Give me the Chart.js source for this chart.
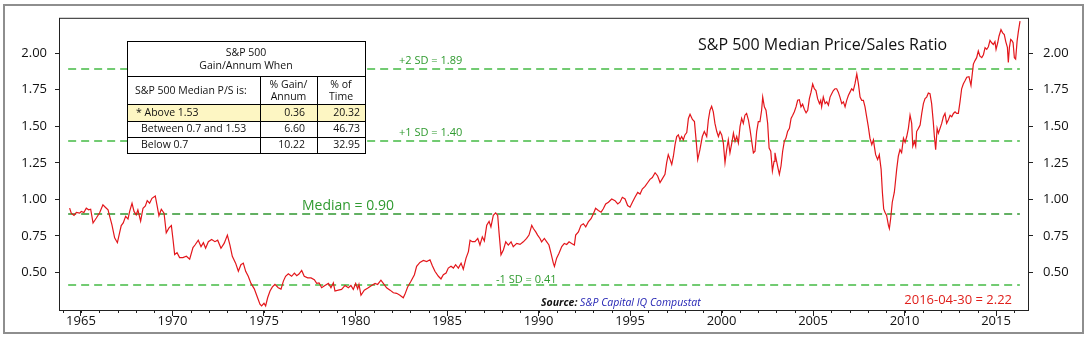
<!DOCTYPE html>
<html lang="en">
<head>
<meta charset="utf-8">
<title>S&amp;P 500 Median Price/Sales Ratio</title>
<script src="https://cdn.jsdelivr.net/npm/chart.js@4.4.1/dist/chart.umd.min.js"></script>
<style>
  html, body { margin: 0; padding: 0; background: #fff; }
  canvas { display: block; }
</style>
</head>
<body>
<canvas id="chart" width="1087" height="338"></canvas>
<script>
// month-end readings of the median P/S ratio (decimal year, ratio)
const dates = [
  1964.38, 1964.47, 1964.62, 1964.75, 1964.93, 1965.02, 1965.16, 1965.29, 1965.42, 1965.53,
  1965.66, 1965.84, 1966.02, 1966.2, 1966.33, 1966.48, 1966.57, 1966.69, 1966.84, 1966.99,
  1967.11, 1967.2, 1967.31, 1967.44, 1967.57, 1967.66, 1967.79, 1967.9, 1968.02, 1968.11,
  1968.26, 1968.39, 1968.52, 1968.62, 1968.75, 1968.88, 1969.06, 1969.17, 1969.26, 1969.39,
  1969.54, 1969.66, 1969.81, 1969.94, 1970.03, 1970.12, 1970.25, 1970.39, 1970.57, 1970.76,
  1970.94, 1971.12, 1971.23, 1971.41, 1971.56, 1971.69, 1971.81, 1971.96, 1972.14, 1972.32,
  1972.47, 1972.65, 1972.83, 1973.0, 1973.14, 1973.27, 1973.45, 1973.6, 1973.74, 1973.87,
  1974.0, 1974.14, 1974.29, 1974.47, 1974.65, 1974.78, 1974.87, 1975.0, 1975.09, 1975.2,
  1975.33, 1975.46, 1975.6, 1975.78, 1975.93, 1976.06, 1976.18, 1976.33, 1976.51, 1976.66,
  1976.79, 1976.91, 1977.06, 1977.2, 1977.39, 1977.57, 1977.75, 1977.88, 1978.01, 1978.15,
  1978.33, 1978.52, 1978.66, 1978.79, 1978.88, 1979.06, 1979.24, 1979.43, 1979.61, 1979.75,
  1979.88, 1980.01, 1980.12, 1980.19, 1980.3, 1980.48, 1980.7, 1980.88, 1981.07, 1981.21,
  1981.39, 1981.52, 1981.7, 1981.89, 1982.07, 1982.25, 1982.43, 1982.61, 1982.7, 1982.85,
  1983.03, 1983.22, 1983.34, 1983.52, 1983.71, 1983.89, 1984.07, 1984.2, 1984.34, 1984.53,
  1984.67, 1984.8, 1984.95, 1985.07, 1985.22, 1985.35, 1985.47, 1985.62, 1985.77, 1985.89,
  1986.04, 1986.17, 1986.26, 1986.38, 1986.53, 1986.68, 1986.8, 1986.93, 1987.04, 1987.17,
  1987.3, 1987.4, 1987.53, 1987.66, 1987.77, 1987.84, 1987.95, 1988.08, 1988.21, 1988.35,
  1988.5, 1988.62, 1988.81, 1988.99, 1989.17, 1989.35, 1989.48, 1989.63, 1989.72, 1989.85,
  1989.95, 1990.08, 1990.17, 1990.32, 1990.45, 1990.57, 1990.68, 1990.81, 1990.87, 1990.99,
  1991.12, 1991.27, 1991.41, 1991.54, 1991.67, 1991.81, 1991.96, 1992.03, 1992.18, 1992.32,
  1992.45, 1992.58, 1992.72, 1992.87, 1993.0, 1993.12, 1993.27, 1993.42, 1993.54, 1993.67,
  1993.82, 1994.0, 1994.18, 1994.33, 1994.45, 1994.58, 1994.73, 1994.87, 1995.0, 1995.13,
  1995.27, 1995.42, 1995.55, 1995.67, 1995.82, 1995.97, 1996.09, 1996.22, 1996.37, 1996.51,
  1996.64, 1996.77, 1996.91, 1997.0, 1997.09, 1997.19, 1997.28, 1997.37, 1997.46, 1997.55,
  1997.64, 1997.73, 1997.82, 1997.91, 1998.0, 1998.1, 1998.19, 1998.28, 1998.41, 1998.52,
  1998.61, 1998.7, 1998.82, 1998.95, 1999.06, 1999.19, 1999.28, 1999.37, 1999.46, 1999.55,
  1999.64, 1999.74, 1999.83, 1999.92, 2000.01, 2000.1, 2000.19, 2000.28, 2000.37, 2000.46,
  2000.56, 2000.65, 2000.74, 2000.83, 2000.92, 2001.01, 2001.1, 2001.19, 2001.28, 2001.37,
  2001.47, 2001.56, 2001.65, 2001.74, 2001.83, 2001.92, 2002.01, 2002.1, 2002.19, 2002.25,
  2002.34, 2002.43, 2002.52, 2002.6, 2002.69, 2002.78, 2002.87, 2002.92, 2003.01, 2003.1,
  2003.16, 2003.25, 2003.34, 2003.43, 2003.52, 2003.61, 2003.71, 2003.8, 2003.89, 2003.98,
  2004.07, 2004.16, 2004.25, 2004.34, 2004.43, 2004.53, 2004.62, 2004.71, 2004.8, 2004.89,
  2004.98, 2005.07, 2005.16, 2005.25, 2005.35, 2005.42, 2005.47, 2005.56, 2005.66, 2005.75,
  2005.84, 2005.93, 2006.02, 2006.11, 2006.2, 2006.29, 2006.38, 2006.47, 2006.57, 2006.66,
  2006.75, 2006.84, 2006.93, 2007.02, 2007.11, 2007.2, 2007.29, 2007.39, 2007.48, 2007.57,
  2007.66, 2007.75, 2007.84, 2007.93, 2008.02, 2008.11, 2008.21, 2008.3, 2008.35, 2008.42,
  2008.53, 2008.62, 2008.72, 2008.79, 2008.86, 2008.93, 2009.02, 2009.12, 2009.17, 2009.24,
  2009.33, 2009.44, 2009.48, 2009.57, 2009.66, 2009.75, 2009.84, 2009.94, 2010.03, 2010.12,
  2010.21, 2010.3, 2010.39, 2010.45, 2010.54, 2010.61, 2010.66, 2010.76, 2010.85, 2010.94,
  2011.03, 2011.12, 2011.21, 2011.3, 2011.39, 2011.48, 2011.57, 2011.63, 2011.7, 2011.78,
  2011.85, 2011.94, 2012.03, 2012.12, 2012.21, 2012.3, 2012.39, 2012.49, 2012.58, 2012.67,
  2012.76, 2012.85, 2012.94, 2013.03, 2013.12, 2013.21, 2013.31, 2013.4, 2013.52, 2013.63,
  2013.76, 2013.85, 2013.94, 2014.03, 2014.12, 2014.22, 2014.31, 2014.4, 2014.49, 2014.58,
  2014.67, 2014.76, 2014.85, 2014.94, 2015.0, 2015.09, 2015.16, 2015.27, 2015.36, 2015.45,
  2015.53, 2015.62, 2015.67, 2015.73, 2015.8, 2015.86, 2015.93, 2016.0, 2016.07, 2016.15,
  2016.22, 2016.31
];
const ratio = [
  0.94, 0.905, 0.89, 0.91, 0.905, 0.917, 0.91, 0.939, 0.928, 0.932,
  0.838, 0.872, 0.908, 0.962, 0.946, 0.928, 0.883, 0.827, 0.736, 0.703,
  0.77, 0.82, 0.838, 0.883, 0.865, 0.917, 0.973, 0.917, 0.894, 0.928,
  0.851, 0.939, 0.955, 0.991, 0.973, 1.007, 1.023, 0.95, 0.887, 0.932,
  0.905, 0.77, 0.804, 0.82, 0.725, 0.622, 0.635, 0.601, 0.601, 0.61,
  0.59, 0.669, 0.687, 0.72, 0.676, 0.703, 0.665, 0.71, 0.725, 0.71,
  0.72, 0.665, 0.70, 0.755, 0.687, 0.61, 0.563, 0.507, 0.552, 0.563,
  0.507, 0.473, 0.424, 0.387, 0.326, 0.282, 0.27, 0.288, 0.27, 0.326,
  0.372, 0.40, 0.417, 0.395, 0.385, 0.44, 0.473, 0.49, 0.473, 0.495,
  0.477, 0.488, 0.513, 0.473, 0.462, 0.462, 0.45, 0.424, 0.428, 0.395,
  0.41, 0.424, 0.395, 0.428, 0.372, 0.378, 0.383, 0.41, 0.394, 0.41,
  0.383, 0.424, 0.387, 0.417, 0.343, 0.378, 0.394, 0.41, 0.424, 0.417,
  0.446, 0.424, 0.394, 0.378, 0.36, 0.356, 0.343, 0.326, 0.349, 0.40,
  0.439, 0.484, 0.541, 0.568, 0.581, 0.574, 0.586, 0.545, 0.507, 0.473,
  0.455, 0.484, 0.495, 0.529, 0.541, 0.529, 0.552, 0.529, 0.563, 0.522,
  0.597, 0.642, 0.72, 0.71, 0.71, 0.732, 0.687, 0.743, 0.714, 0.822,
  0.849, 0.811, 0.89, 0.907, 0.89, 0.777, 0.62, 0.653, 0.709, 0.687,
  0.709, 0.676, 0.698, 0.691, 0.709, 0.732, 0.755, 0.822, 0.80, 0.777,
  0.755, 0.732, 0.709, 0.732, 0.709, 0.687, 0.631, 0.563, 0.541, 0.597,
  0.631, 0.676, 0.698, 0.691, 0.709, 0.698, 0.687, 0.755, 0.777, 0.822,
  0.833, 0.811, 0.845, 0.867, 0.901, 0.939, 0.924, 0.912, 0.935, 0.968,
  0.98, 1.002, 0.991, 0.968, 0.98, 1.014, 1.002, 0.957, 0.946, 0.98,
  1.014, 1.047, 1.036, 1.07, 1.088, 1.115, 1.137, 1.149, 1.182, 1.16,
  1.115, 1.142, 1.171, 1.25, 1.306, 1.272, 1.239, 1.295, 1.374, 1.43,
  1.441, 1.407, 1.43, 1.407, 1.441, 1.457, 1.554, 1.583, 1.547, 1.532,
  1.407, 1.272, 1.34, 1.43, 1.464, 1.43, 1.543, 1.61, 1.637, 1.599,
  1.52, 1.464, 1.43, 1.464, 1.441, 1.385, 1.25, 1.34, 1.407, 1.318,
  1.385, 1.453, 1.396, 1.43, 1.385, 1.498, 1.554, 1.52, 1.576, 1.588,
  1.543, 1.475, 1.396, 1.318, 1.33, 1.464, 1.532, 1.532, 1.61, 1.70,
  1.633, 1.61, 1.52, 1.351, 1.329, 1.194, 1.26, 1.318, 1.26, 1.205,
  1.171, 1.228, 1.329, 1.397, 1.419, 1.464, 1.486, 1.554, 1.576, 1.60,
  1.633, 1.678, 1.682, 1.633, 1.651, 1.615, 1.592, 1.61, 1.689, 1.734,
  1.79, 1.757, 1.745, 1.689, 1.655, 1.678, 1.633, 1.70, 1.655, 1.667,
  1.644, 1.70, 1.723, 1.745, 1.757, 1.757, 1.734, 1.70, 1.655, 1.667,
  1.633, 1.678, 1.711, 1.734, 1.757, 1.745, 1.79, 1.858, 1.79, 1.70,
  1.678, 1.678, 1.633, 1.565, 1.498, 1.419, 1.374, 1.407, 1.363, 1.306,
  1.272, 1.306, 1.205, 1.047, 0.934, 0.912, 0.89, 0.822, 0.80, 0.867,
  0.98, 1.047, 1.093, 1.205, 1.295, 1.34, 1.32, 1.419, 1.39, 1.43,
  1.486, 1.576, 1.52, 1.363, 1.397, 1.363, 1.464, 1.486, 1.508, 1.588,
  1.655, 1.69, 1.70, 1.728, 1.723, 1.655, 1.53, 1.43, 1.34, 1.486,
  1.453, 1.486, 1.52, 1.565, 1.588, 1.52, 1.543, 1.576, 1.565, 1.588,
  1.599, 1.588, 1.588, 1.667, 1.757, 1.79, 1.813, 1.836, 1.84, 1.78,
  1.926, 1.95, 1.97, 2.016, 1.98, 1.97, 1.99, 2.038, 2.027, 2.045,
  2.088, 2.072, 2.06, 2.08, 2.027, 2.072, 2.117, 2.162, 2.14, 2.128,
  2.08, 2.04, 1.937, 2.04, 2.095, 2.088, 2.072, 1.97, 1.96, 2.083,
  2.15, 2.22
];

const xTicks = [1965, 1970, 1975, 1980, 1985, 1990, 1995, 2000, 2005, 2010, 2015];
const minorYears = [];
for (let yr = 1964; yr <= 2016; yr++) minorYears.push(yr);
const yTicks = [0.5, 0.75, 1.0, 1.25, 1.5, 1.75, 2.0];

// standard-deviation bands
const bandValues = [1.89, 1.40, 0.90, 0.41];
const bandLabels = ['+2 SD = 1.89', '+1 SD = 1.40', 'Median = 0.90', '-1 SD = 0.41'];
const bandSpan = [1964.3, 2016.3];

// gain table
const tableTitle = ['S&P 500', 'Gain/Annum When'];
const tableHead = ['S&P 500 Median P/S is:', ['% Gain/', 'Annum'], ['% of', 'Time']];
const tableRows = [
  ['* Above 1.53', '0.36', '20.32'],
  ['Between 0.7 and 1.53', '6.60', '46.73'],
  ['Below 0.7', '10.22', '32.95']
];

const FONT = '"Open Sans", "DejaVu Sans", sans-serif';
const GREEN = '#2f9a2f';

function font(size, style = '') {
    return `${style} ${size}px ${FONT}`.trim();
}

const decorations = {
    id: 'decorations',
    beforeDraw(chart) {
        const { ctx } = chart;
        ctx.save();
        ctx.fillStyle = '#fff';
        ctx.fillRect(0, 0, chart.width, chart.height);
        ctx.strokeStyle = '#8e8e8e';
        ctx.lineWidth = 2;
        ctx.strokeRect(4, 5, 1079, 328);
        ctx.restore();
    },
    beforeDatasetsDraw(chart) {
        const { ctx, scales } = chart;
        const x0 = scales.x.getPixelForValue(bandSpan[0]);
        const x1 = scales.x.getPixelForValue(bandSpan[1]);
        ctx.save();
        bandValues.forEach((v, i) => {
            const y = Math.round(scales.y.getPixelForValue(v));
            const isMedian = i === 2;
            ctx.strokeStyle = isMedian ? '#2f962f' : '#44bb44';
            ctx.lineWidth = isMedian ? 1.5 : 1.4;
            ctx.setLineDash([8, 5]);
            ctx.beginPath();
            ctx.moveTo(x0, y);
            ctx.lineTo(x1, y);
            ctx.stroke();
        });
        ctx.setLineDash([]);
        ctx.fillStyle = GREEN;
        ctx.textBaseline = 'middle';
        ctx.textAlign = 'left';
        // label spots (left x, offset above the line)
        const spots = [[399, 8], [399, 8], [302, 8], [496, 6]];
        bandValues.forEach((v, i) => {
            const y = scales.y.getPixelForValue(v);
            ctx.font = i === 2 ? font(14) : font(11);
            ctx.fillText(bandLabels[i], spots[i][0], y - spots[i][1]);
        });
        ctx.restore();
    },
    afterDatasetsDraw(chart) {
        const { ctx, chartArea: a, scales } = chart;
        ctx.save();

        // plot frame
        ctx.strokeStyle = '#222';
        ctx.lineWidth = 1;
        ctx.strokeRect(a.left + 0.5, a.top + 0.5, a.right - a.left - 1, a.bottom - a.top);

        // minor year ticks
        ctx.beginPath();
        minorYears.forEach(yr => {
            const px = Math.round(scales.x.getPixelForValue(yr)) + 0.5;
            ctx.moveTo(px, a.bottom);
            ctx.lineTo(px, a.bottom + 3);
        });
        ctx.stroke();

        // table
        const L = 127, R = 365, T = 41, B = 153;
        const rowY = [76, 104, 121, 137];
        const colX = [260, 317];
        ctx.fillStyle = '#fff';
        ctx.fillRect(L, T, R - L, B - T);
        ctx.fillStyle = '#fdf6c3';
        ctx.fillRect(L, rowY[1], R - L, rowY[2] - rowY[1]);
        ctx.strokeStyle = '#000';
        ctx.lineWidth = 1;
        ctx.strokeRect(L + 0.5, T + 0.5, R - L, B - T);
        ctx.beginPath();
        rowY.forEach(y => { ctx.moveTo(L, y + 0.5); ctx.lineTo(R, y + 0.5); });
        colX.forEach(x => { ctx.moveTo(x + 0.5, rowY[0]); ctx.lineTo(x + 0.5, B); });
        ctx.stroke();

        ctx.fillStyle = '#111';
        ctx.textBaseline = 'middle';
        ctx.font = font(10.5);
        ctx.textAlign = 'center';
        ctx.fillText(tableTitle[0], (L + R) / 2, 53);
        ctx.fillText(tableTitle[1], (L + R) / 2, 66);
        ctx.fillText(tableHead[1][0], (colX[0] + colX[1]) / 2, 85);
        ctx.fillText(tableHead[1][1], (colX[0] + colX[1]) / 2, 97);
        ctx.fillText(tableHead[2][0], (colX[1] + R) / 2, 85);
        ctx.fillText(tableHead[2][1], (colX[1] + R) / 2, 97);
        ctx.textAlign = 'left';
        ctx.fillText(tableHead[0], 135, 91);
        const textY = [113, 129, 145];
        tableRows.forEach((row, i) => {
            ctx.textAlign = 'left';
            ctx.fillText(row[0], i === 0 ? 136 : 141, textY[i]);
            ctx.textAlign = 'right';
            ctx.fillText(row[1], 305, textY[i]);
            ctx.fillText(row[2], 360, textY[i]);
        });

        // title
        ctx.textAlign = 'left';
        ctx.fillStyle = '#111';
        ctx.font = font(16);
        ctx.fillText('S&P 500 Median Price/Sales Ratio', 698, 45);

        // source
        ctx.font = font(10.5, 'italic bold');
        ctx.fillText('Source:', 541, 303);
        const w = ctx.measureText('Source: ').width;
        ctx.font = font(10.5, 'italic');
        ctx.fillStyle = '#2424b4';
        ctx.fillText('S&P Capital IQ Compustat', 541 + w, 303);

        // last reading
        ctx.font = font(13);
        ctx.fillStyle = '#e0201c';
        ctx.textAlign = 'right';
        ctx.fillText('2016-04-30 = ' + ratio[ratio.length - 1].toFixed(2), 1012, 300);

        ctx.restore();
    }
};

const yAxis = (position, padding, width) => ({
    type: 'linear',
    position,
    min: 0.242,
    max: 2.243,
    afterBuildTicks: s => { s.ticks = yTicks.map(v => ({ value: v })); },
    afterFit: s => { s.width = width; },
    border: { display: false },
    grid: { drawOnChartArea: false, drawTicks: true, tickLength: 4, color: '#222' },
    ticks: {
        padding,
        color: '#111',
        font: { family: FONT, size: 13 },
        callback: v => v.toFixed(2)
    }
});

new Chart(document.getElementById('chart'), {
    type: 'line',
    data: {
        datasets: [{
            data: dates.map((d, i) => ({ x: d, y: ratio[i] })),
            borderColor: '#e3161b',
            borderWidth: 1.2,
            pointRadius: 0,
            tension: 0,
            fill: false
        }]
    },
    options: {
        responsive: false,
        devicePixelRatio: 1,
        animation: false,
        events: [],
        layout: { padding: { top: 13, left: 0, right: 0, bottom: 0 } },
        plugins: { legend: { display: false }, tooltip: { enabled: false } },
        scales: {
            x: {
                type: 'linear',
                min: 1963.8,
                max: 2016.8,
                afterBuildTicks: s => { s.ticks = xTicks.map(v => ({ value: v })); },
                afterFit: s => { s.height = 28; },
                border: { display: false },
                grid: { drawOnChartArea: false, drawTicks: true, tickLength: 6, color: '#222' },
                ticks: {
                    padding: -3,
                    autoSkip: false,
                    maxRotation: 0,
                    color: '#111',
                    font: { family: FONT, size: 13 },
                    callback: v => String(v)
                }
            },
            y: yAxis('left', 8, 59),
            y2: yAxis('right', 10, 58)
        }
    },
    plugins: [decorations]
});
</script>
</body>
</html>
